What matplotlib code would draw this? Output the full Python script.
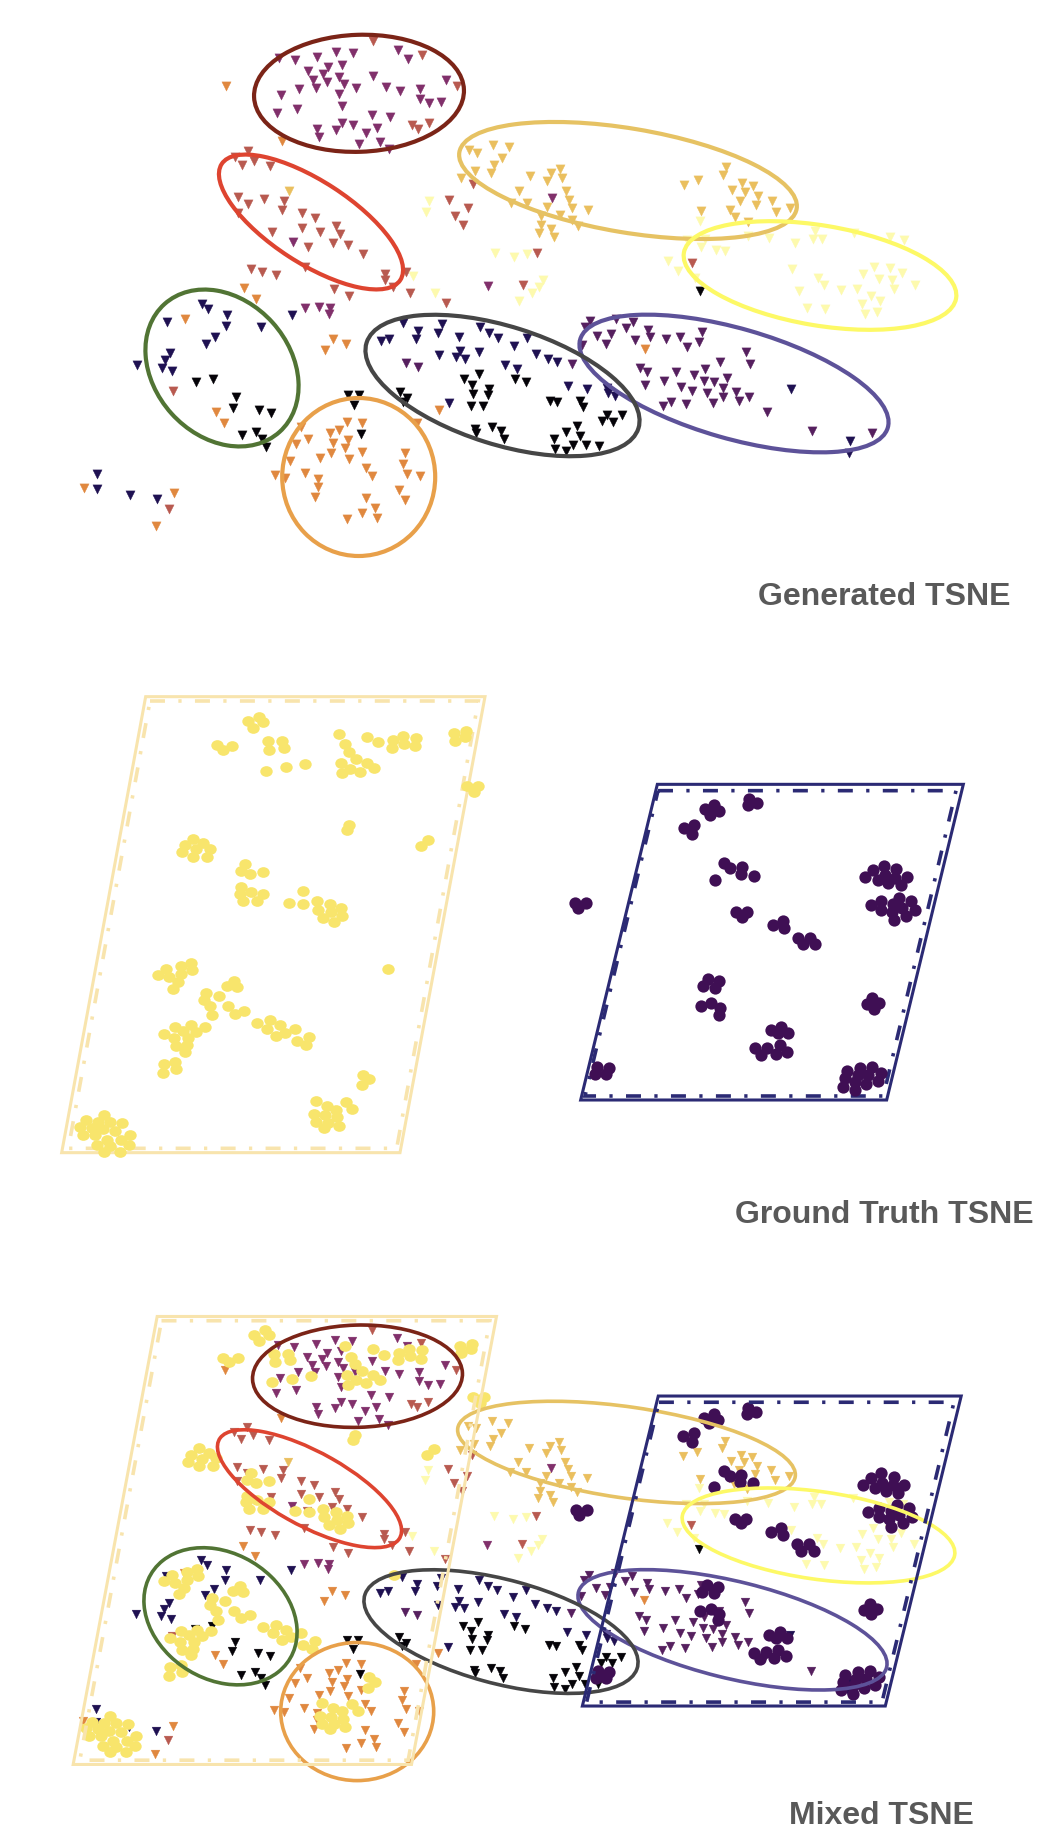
import numpy as np
import matplotlib
matplotlib.use("Agg")
import matplotlib.pyplot as plt
from matplotlib.patches import Ellipse, Polygon
from matplotlib.markers import MarkerStyle
from matplotlib.transforms import Affine2D

W, H = 1064, 1846

# ---------- generated embedding, one list per colour class ----------
magenta = [(279,58),(295,60),(317,57),(336,52),(353,53),(398,50),(408,59),(342,65),(328,67),(308,71),(323,74),(339,77),(313,80),(327,82),(344,84),(373,76),(446,80),(299,89),(316,88),(356,88),(386,87),(400,91),(420,89),(339,94),(281,95),(420,99),(429,103),(441,102),(342,106),(297,109),(277,113),(372,115),(390,117),(342,123),(353,125),(377,128),(317,129),(336,130),(366,133),(319,137),(359,144),(380,142),(389,149),(293,242),(305,308),(319,307),(330,308),(329,314),(488,286),(552,198)]
redbrown = [(373,41),(422,55),(457,86),(412,125),(418,129),(429,123),(248,151),(235,157),(242,165),(254,161),(270,166),(238,197),(248,204),(264,199),(284,201),(282,210),(238,213),(302,213),(315,218),(302,228),(336,226),(272,232),(320,232),(340,234),(333,243),(348,245),(308,247),(363,254),(305,267),(251,269),(262,272),(276,275),(385,274),(385,280),(406,272),(334,289),(349,296),(393,287),(410,293),(446,303),(449,200),(468,208),(455,216),(463,225),(473,184),(537,253),(523,285),(692,263),(173,391),(169,509)]
orange = [(226,86),(282,141),(244,288),(256,299),(185,319),(216,412),(224,423),(333,339),(346,344),(325,350),(84,488),(174,493),(156,526),(347,422),(362,423),(339,430),(330,433),(308,439),(301,427),(333,443),(348,440),(296,444),(345,448),(331,453),(362,452),(320,458),(349,459),(290,461),(366,468),(405,453),(403,464),(407,474),(420,476),(305,473),(275,475),(285,478),(318,479),(372,476),(318,487),(399,490),(315,497),(366,498),(405,500),(375,508),(362,513),(347,519),(377,518),(439,410),(417,423),(645,349)]
gold = [(289,191),(469,150),(477,153),(493,145),(509,147),(502,158),(494,165),(475,171),(491,173),(461,178),(560,169),(551,173),(530,176),(562,178),(547,181),(519,191),(566,191),(569,200),(527,203),(511,203),(547,207),(572,208),(588,210),(560,215),(541,216),(572,220),(578,226),(541,225),(551,229),(539,233),(554,237),(726,167),(723,175),(684,185),(698,180),(742,183),(753,186),(732,190),(745,192),(758,196),(740,201),(772,201),(756,205),(730,210),(776,212),(701,211),(735,217),(748,222),(790,208)]
pale = [(700,221),(687,240),(701,247),(716,250),(725,251),(705,239),(769,238),(748,236),(795,243),(813,239),(822,239),(815,231),(854,233),(890,237),(904,240),(668,261),(678,271),(695,278),(792,269),(874,267),(890,268),(863,274),(902,273),(879,279),(892,280),(818,278),(824,285),(915,285),(799,291),(841,290),(857,289),(894,289),(871,296),(880,301),(862,304),(807,308),(825,309),(877,312),(865,314),(495,253),(514,257),(527,254),(543,280),(539,287),(532,293),(519,301),(429,201),(426,212),(413,276),(435,293)]
black = [(400,392),(407,398),(403,402),(464,379),(479,374),(472,385),(489,389),(473,394),(488,395),(471,406),(483,406),(515,379),(526,382),(550,401),(557,402),(580,401),(583,407),(475,429),(476,433),(492,427),(501,431),(504,439),(577,426),(566,432),(580,436),(554,439),(555,449),(566,451),(573,445),(586,445),(599,446),(607,415),(602,421),(613,422),(622,415),(348,395),(359,395),(354,405),(361,434),(196,382),(213,379),(236,397),(233,408),(259,410),(271,413),(242,435),(256,432),(262,439),(266,447),(700,291)]
navy = [(381,341),(389,339),(403,323),(418,331),(416,339),(438,333),(442,324),(459,337),(480,327),(489,333),(498,338),(514,346),(527,338),(439,355),(460,351),(456,357),(465,359),(479,352),(505,365),(517,369),(536,354),(548,359),(557,362),(568,386),(587,389),(449,403),(607,388),(608,393),(615,396),(202,304),(208,309),(227,315),(167,322),(226,326),(261,327),(215,337),(206,344),(170,353),(165,360),(162,368),(172,371),(137,365),(292,315),(97,474),(97,489),(130,495),(157,499),(791,389),(850,441),(849,453)]
purple = [(406,363),(418,367),(572,364),(590,321),(585,327),(616,319),(633,322),(626,328),(648,330),(650,337),(597,336),(611,334),(635,340),(666,339),(680,337),(702,332),(699,342),(687,347),(606,344),(582,345),(746,352),(750,364),(720,362),(640,368),(647,372),(676,372),(694,375),(705,369),(727,378),(664,381),(704,381),(714,382),(645,385),(681,387),(723,388),(692,391),(707,393),(736,392),(723,397),(739,401),(749,397),(671,402),(686,404),(713,403),(663,406),(767,412),(812,431),(872,433)]

tri_groups = [(black,'#050308'),(navy,'#1f1152'),(purple,'#56205f'),(magenta,'#81306b'),
              (redbrown,'#b85a50'),(orange,'#e0883f'),(gold,'#eabf5e'),(pale,'#fdfaae')]

# ---------- ground truth embedding ----------
truth_a = [(593,124),(626,110),(640,127),(610,145),(501,196),(518,210),(546,197),(653,184),(697,183),(656,209),(703,204),(649,272),(709,261),(765,252),(868,161),(884,193),(898,215),(917,237),(873,248),(875,280),(901,266),(930,275),(951,248),(973,264),(952,170),(985,187),(1029,180),(1026,204),(1060,168),(1063,191),(1097,173),(1094,199),(1213,160),(1248,153),(1216,182),(1245,170),(1252,318),(1285,317),(1271,336),(896,434),(892,450),(1133,479),(1113,497),(429,476),(405,495),(458,490),(437,508),(481,506),(397,517),(430,530),(470,530),(584,553),(572,574),(601,583),(638,576),(574,622),(569,643),(603,636),(640,642),(579,664),(621,662),(760,632),(718,668),(759,673),(801,662),(839,672),(805,689),(873,685),(842,697),(875,708),(818,714),(851,726),(1014,868),(424,848),(393,858),(426,870),(349,866),(323,885),(392,883),(356,892),(385,906),(369,926),(551,902),(530,917),(561,921),(468,939),(507,949),(463,960),(480,979),(533,978),(582,992),(555,1001),(486,1005),(620,1028),(660,1021),(689,1036),(651,1047),(734,1047),(706,1058),(677,1068),(776,1071),(740,1083),(768,1095),(375,1041),(423,1036),(465,1040),(343,1062),(400,1052),(438,1056),(373,1074),(415,1074),(410,1095),(378,1098),(406,1115),(342,1152),(376,1146),(378,1168),(338,1178),(939,1184),(956,1197),(936,1215),(798,1264),(832,1277),(889,1266),(859,1289),(906,1288),(791,1303),(826,1305),(862,1311),(798,1327),(833,1328),(867,1337),(823,1344),(107,1321),(161,1304),(217,1329),(180,1325),(145,1326),(90,1341),(127,1343),(160,1348),(195,1352),(99,1366),(136,1366),(241,1365),(172,1380),(213,1380),(142,1395),(238,1396),(180,1398),(162,1415),(210,1415)]
truth_b = [(465,147),(493,136),(507,154),(480,164),(597,118),(622,130),(595,136),(401,204),(433,195),(426,222),(523,310),(541,325),(577,322),(574,343),(612,347),(494,360),(969,330),(1001,317),(1038,328),(944,352),(1004,345),(983,361),(1035,353),(1071,351),(1015,370),(1053,376),(962,436),(994,424),(1047,413),(1084,423),(1030,432),(994,451),(1055,445),(1095,449),(1025,457),(1068,469),(1031,480),(75,428),(108,430),(85,445),(558,455),(592,455),(575,470),(668,495),(698,483),(702,505),(744,534),(781,534),(758,553),(796,553),(474,658),(507,663),(459,678),(494,683),(452,738),(484,730),(510,745),(507,765),(967,715),(987,730),(950,733),(971,748),(694,800),(662,810),(714,820),(683,820),(616,865),(652,864),(689,856),(633,884),(677,881),(711,875),(142,921),(177,924),(135,941),(168,943),(892,933),(930,925),(967,920),(994,940),(885,955),(925,945),(955,945),(915,965),(983,963),(948,972),(878,980),(916,990)]

# boxes around the two true classes, in the same units as the points
box_a_outer = [(287,50),(1305,50),(1050,1418),(35,1418)]
box_a_inner = [(300,63),(1285,63),(1040,1405),(55,1405)]
box_b_outer = [(322,73),(1240,73),(1010,1020),(92,1020)]
box_b_inner = [(324,92),(1218,92),(1000,1008),(105,1008)]

# clusters: centre x, centre y, width, height, angle, colour
ell_x = [359, 311, 628, 820, 734, 502.5, 222, 358.7]
ell_y = [93.3, 222, 180.5, 275.5, 383.5, 385.5, 368, 477]
ell_w = [210, 213, 342, 276, 320, 285, 172, 153]
ell_h = [117, 82, 104, 100, 110, 118, 136, 158]
ell_a = [-2, 33, 9.5, 9.5, 16, 17.5, 48, 0]
ell_c = ['#7b2417','#de4430','#e6c263','#fdf966','#5d5299','#464646','#517434','#e8a04a']

# captions: text, centre x, centre y
cap_text = ['Generated TSNE', 'Ground Truth TSNE', 'Mixed TSNE']
cap_x = [884, 884, 881]
cap_y = [584 + 13, 1215, 1816]

fig = plt.figure(figsize=(W/100, H/100), dpi=100, facecolor='white')

def layer(x0, sx, y0, sy, z):
    """Full-figure axes whose data units map to pixel = origin + scale * value."""
    ax = fig.add_axes([0, 0, 1, 1], zorder=z)
    ax.set_xlim((0-x0)/sx, (W-x0)/sx)
    ax.set_ylim((H-y0)/sy, (0-y0)/sy)
    ax.axis('off')
    ax.patch.set_alpha(0)
    return ax

def draw_tri(ax, s=44):
    for pts, c in tri_groups:
        a = np.array(pts)
        ax.scatter(a[:,0], a[:,1], marker='v', s=s, c=c, linewidths=0.25, edgecolors=c)

def draw_ell(ax, lw=3.0):
    for x, y, w, h, a, c in zip(ell_x, ell_y, ell_w, ell_h, ell_a, ell_c):
        ax.add_patch(Ellipse((x, y), w, h, angle=a, fill=False, ec=c, lw=lw))

def draw_box(ax, outer, inner, c):
    ax.add_patch(Polygon(outer, closed=True, fill=False, ec=c, lw=2.2, joinstyle='miter'))
    ax.add_patch(Polygon(inner, closed=True, fill=False, ec=c, lw=2.6,
                         linestyle=(0, (4.15, 3.7, 0.9, 3.7)), capstyle='butt'))

OVAL = MarkerStyle('o', transform=Affine2D().scale(1, 0.86))

def draw_pts(ax, pts, c, s, marker='o'):
    a = np.array(pts)
    ax.scatter(a[:,0], a[:,1], marker=marker, s=s, c=c, linewidths=0)

YEL, YFR = '#f8e56c', '#f8e4ad'
VIO, VFR = '#3f0f54', '#2b2a74'

# Generated panel
g = layer(0, 1, 0, 1, 1)
draw_tri(g); draw_ell(g)

# Ground truth panel
t1 = layer(50, 1/3, 680, 1/3, 1)
draw_box(t1, box_a_outer, box_a_inner, YFR); draw_pts(t1, truth_a, YEL, 80, OVAL)
t2 = layer(550, 1/3, 760, 1/3, 1)
draw_box(t2, box_b_outer, box_b_inner, VFR); draw_pts(t2, truth_b, VIO, 78)

# Mixed panel: triangles, then points, then cluster outlines, then boxes
ya = 448/456
yb = 0.982
mt = layer(-1.5, 1, 1323.5-33*0.874, 0.874, 2)
draw_tri(mt, s=40)
mp1 = layer(56, 1/3, 1294.4, ya*0.988/3, 3)
draw_pts(mp1, truth_a, YEL, 80, OVAL)
mp2 = layer(551, 0.99/3, 1396+(760-784.3)*yb-2.5, yb/3, 3)
draw_pts(mp2, truth_b, VIO, 78)
me = layer(-1.5, 1, 1323.5-33*0.874, 0.874, 4)
draw_ell(me, lw=2.6)
mb1 = layer(61.5, 1/3, 1316.5+(680-696.7)*ya, ya/3, 5)
draw_box(mb1, box_a_outer, box_a_inner, YFR)
mb2 = layer(552, 0.99/3, 1396+(760-784.3)*yb, yb/3, 5)
draw_box(mb2, box_b_outer, box_b_inner, VFR)

# Panel captions
for txt, x, y in zip(cap_text, cap_x, cap_y):
    fig.text(x/W, 1-y/H, txt, ha='center', va='center', fontsize=23, fontweight='bold',
             family='Liberation Sans', color='#595959', zorder=10)

fig.savefig('out.png', dpi=100, facecolor='white')
